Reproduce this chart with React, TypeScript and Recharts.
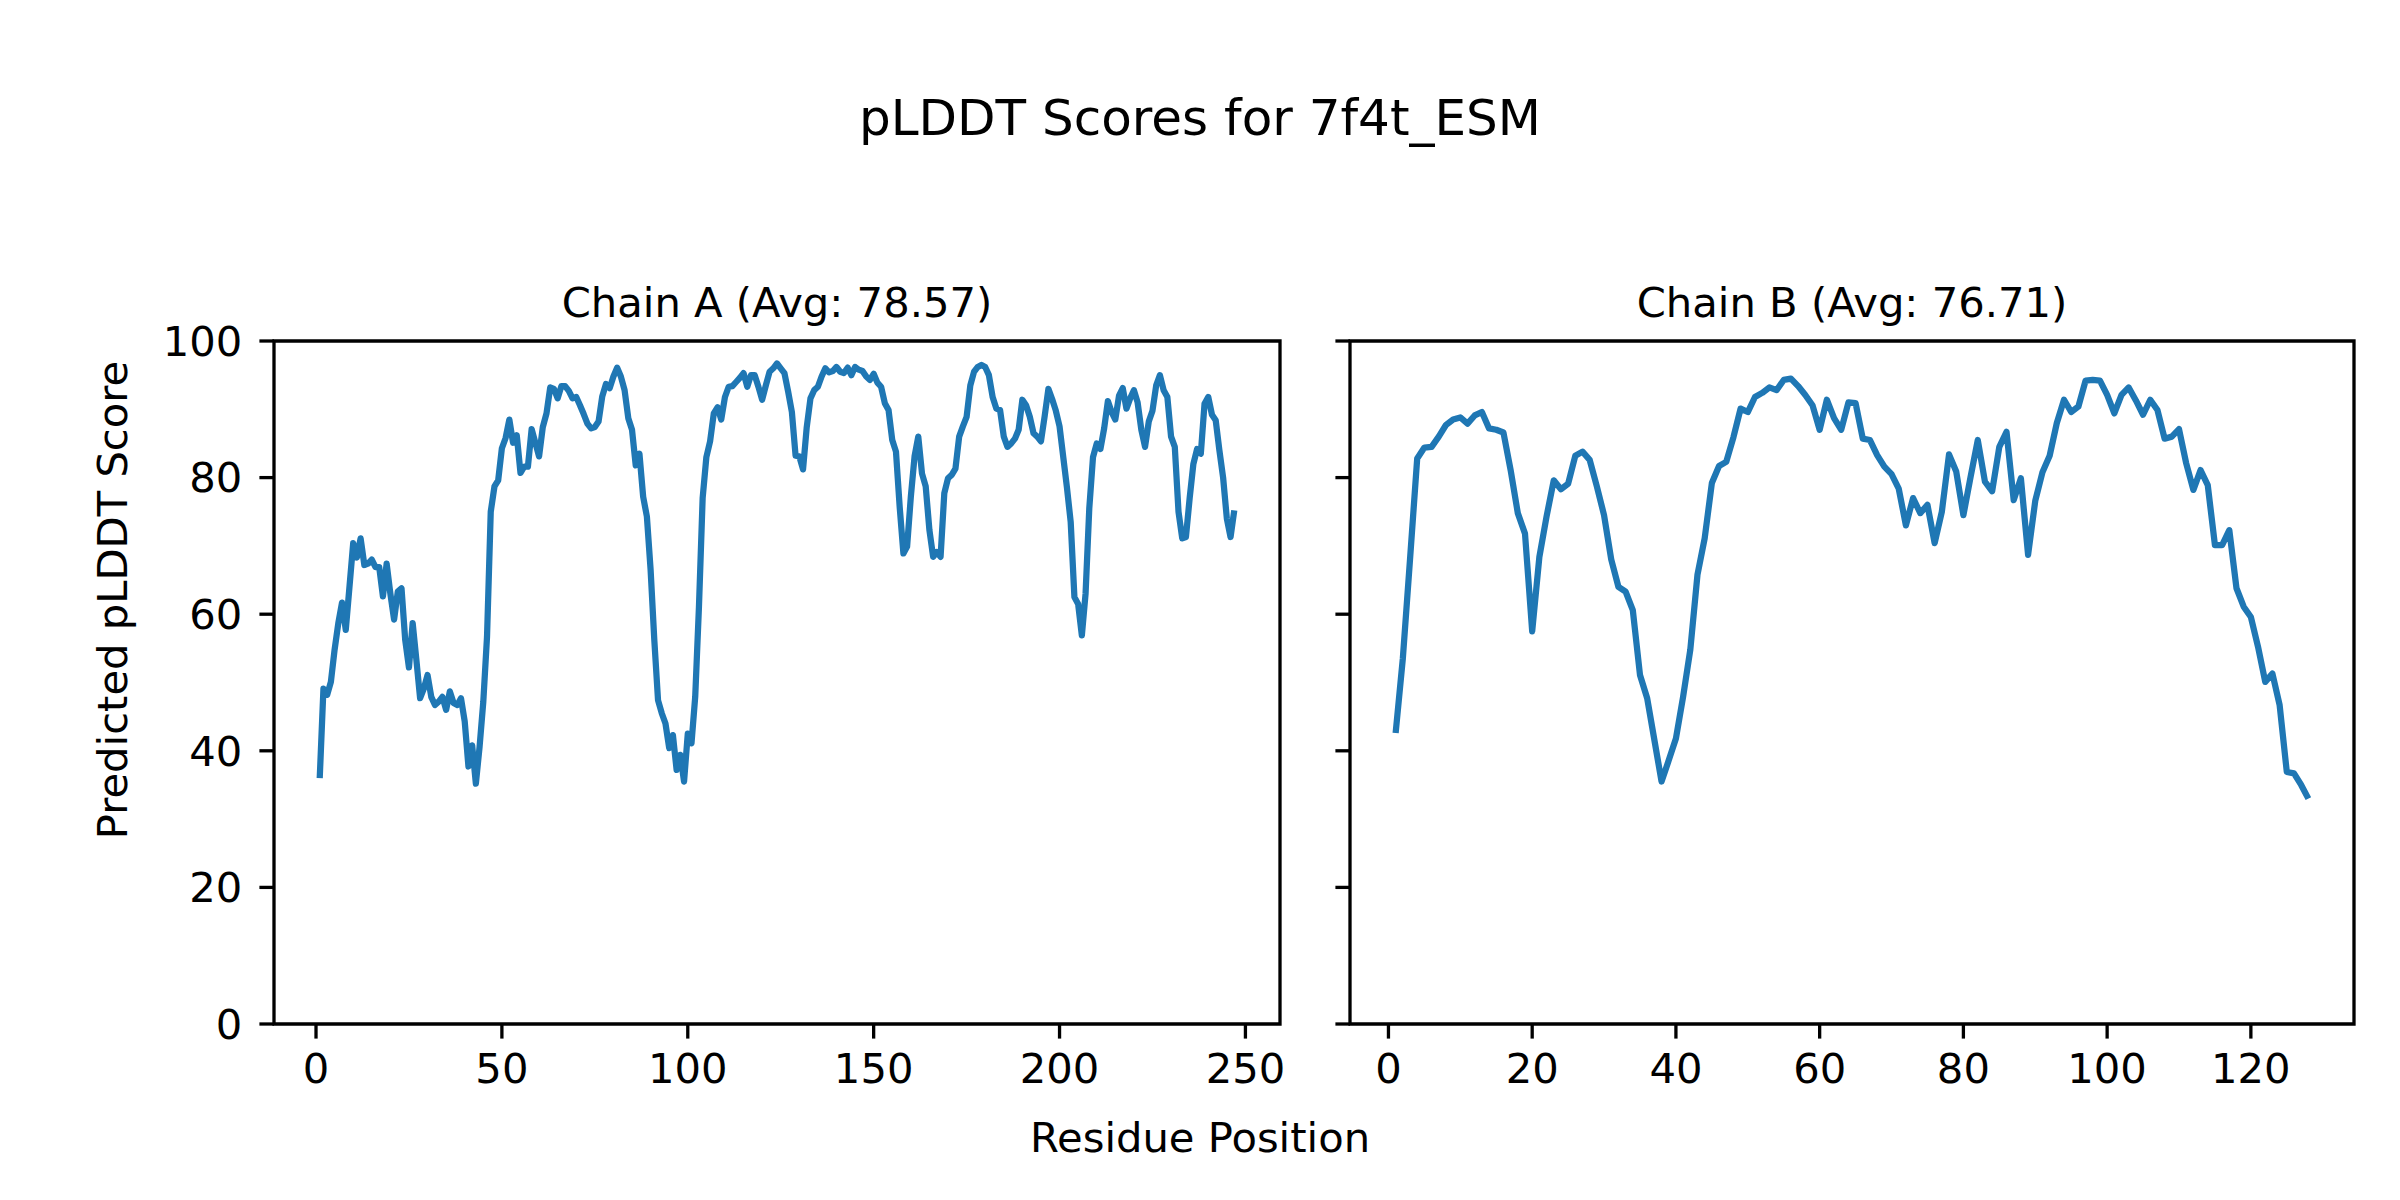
import React from 'react';
import { LineChart, Line, XAxis, YAxis, ReferenceArea } from 'recharts';

// per-residue pLDDT (residue 1..n)
const chainAScores = [
  36.0, 49.1, 48.2, 50.1, 54.8, 58.7, 61.7, 57.7, 64.0, 70.4,
  68.3, 71.1, 67.2, 67.4, 68.0, 66.9, 66.9, 62.6, 67.4, 63.0,
  59.2, 63.3, 63.8, 56.2, 52.2, 58.7, 53.3, 47.7, 49.1, 51.1,
  47.9, 46.7, 47.2, 47.9, 46.0, 48.7, 47.0, 46.7, 47.7, 44.3,
  37.7, 40.8, 35.2, 40.6, 47.2, 56.7, 75.0, 78.7, 79.6, 84.3,
  85.8, 88.5, 85.1, 86.2, 80.7, 81.6, 81.6, 87.1, 85.1, 83.1,
  87.4, 89.4, 93.2, 93.0, 91.6, 93.4, 93.4, 92.7, 91.6, 91.8,
  90.6, 89.3, 87.9, 87.2, 87.4, 88.2, 91.9, 93.7, 93.1, 94.8,
  96.1, 94.8, 92.8, 88.7, 87.0, 81.8, 83.5, 77.2, 74.3, 66.5,
  56.2, 47.4, 45.5, 44.0, 40.4, 42.3, 37.2, 39.4, 35.5, 42.5,
  41.1, 47.9, 61.0, 77.0, 83.0, 85.3, 89.4, 90.3, 88.5, 91.8,
  93.3, 93.4, 94.0, 94.6, 95.3, 93.3, 95.0, 95.0, 93.3, 91.4,
  93.5, 95.5, 96.0, 96.7, 96.0, 95.3, 92.6, 89.6, 83.2, 83.1,
  81.2, 87.4, 91.6, 92.8, 93.3, 94.8, 96.0, 95.4, 95.6, 96.2,
  95.5, 95.3, 96.1, 95.0, 96.2, 95.8, 95.6, 94.8, 94.3, 95.2,
  93.9, 93.3, 90.9, 89.9, 85.5, 83.8, 75.7, 68.9, 69.9, 77.2,
  83.1, 86.0, 80.6, 78.7, 72.3, 68.4, 69.1, 68.4, 77.7, 79.9,
  80.4, 81.3, 86.0, 87.5, 88.9, 93.5, 95.5, 96.2, 96.5, 96.2,
  95.0, 91.8, 90.1, 89.9, 86.0, 84.5, 85.0, 85.7, 87.0, 91.4,
  90.6, 88.9, 86.5, 86.0, 85.3, 89.0, 93.0, 91.5, 89.8, 87.5,
  83.0, 78.5, 73.5, 62.5, 61.5, 56.9, 63.0, 75.5, 83.0, 85.0,
  84.2, 87.2, 91.2, 89.6, 88.5, 92.0, 93.1, 90.1, 91.6, 92.8,
  91.0, 87.0, 84.5, 88.2, 89.8, 93.5, 95.0, 92.8, 91.8, 86.0,
  84.5, 75.0, 71.1, 71.3, 77.0, 82.0, 84.2, 83.5, 90.8, 91.8,
  89.2, 88.4, 84.0, 80.0, 74.0, 71.3, 75.2,
];

const chainBScores = [
  42.6, 53.5, 68.0, 82.8, 84.4, 84.5, 86.0, 87.7, 88.5, 88.8,
  87.9, 89.1, 89.6, 87.2, 87.0, 86.6, 81.1, 74.8, 71.8, 57.5,
  68.4, 74.3, 79.6, 78.3, 79.1, 83.2, 83.8, 82.6, 78.7, 74.5,
  68.0, 64.0, 63.3, 60.6, 51.1, 47.7, 41.6, 35.5, 38.6, 41.8,
  47.9, 54.8, 65.8, 71.1, 79.2, 81.7, 82.3, 85.9, 90.1, 89.6,
  91.8, 92.4, 93.2, 92.8, 94.3, 94.5, 93.4, 92.1, 90.6, 87.0,
  91.4, 88.7, 87.0, 91.0, 90.9, 85.7, 85.5, 83.3, 81.6, 80.5,
  78.4, 73.0, 77.0, 74.8, 76.0, 70.4, 75.0, 83.4, 80.9, 74.5,
  80.1, 85.5, 79.4, 78.0, 84.5, 86.7, 76.7, 79.9, 68.7, 76.6,
  80.8, 83.2, 88.0, 91.4, 89.6, 90.4, 94.2, 94.3, 94.2, 92.1,
  89.4, 92.1, 93.2, 91.3, 89.2, 91.4, 89.9, 85.7, 86.0, 87.1,
  82.1, 78.2, 81.1, 78.9, 70.1, 70.1, 72.3, 63.8, 61.1, 59.6,
  55.2, 50.1, 51.3, 46.7, 36.9, 36.7, 35.0, 33.0,
];

const chainATicks = [0, 50, 100, 150, 200, 250];
const chainBTicks = [0, 20, 40, 60, 80, 100, 120];
const scoreTicks = [0, 20, 40, 60, 80, 100];

const chainAAvg = '78.57';
const chainBAvg = '76.71';

const FONT = '"DejaVu Sans", sans-serif';
const BLUE = '#1f77b4';
const TICK_FONT = 41.7;

const toRows = (scores: number[]) => scores.map((score, i) => ({ pos: i + 1, score }));

// matplotlib pads the x range by 5% each side
const paddedDomain = (n: number): [number, number] => {
  const pad = (n - 1) * 0.05;
  return [1 - pad, n + pad];
};

interface PanelProps {
  scores: number[];
  ticks: number[];
  left: number;
  width: number;
  yAxisWidth: number;
  marginRight: number;
  showYLabels: boolean;
}

const ChainPanel: React.FC<PanelProps> = ({ scores, ticks, left, width, yAxisWidth, marginRight, showYLabels }) => {
  const domain = paddedDomain(scores.length);
  const tickText = { fill: '#000', fontSize: TICK_FONT, fontFamily: FONT };
  return (
    <div style={{ position: 'absolute', left, top: 0 }}>
      <LineChart
        width={width}
        height={1200}
        data={toRows(scores)}
        margin={{ top: 341, right: marginRight, bottom: 76, left: 0 }}
      >
        <XAxis
          dataKey="pos"
          type="number"
          domain={domain}
          ticks={ticks}
          interval={0}
          allowDataOverflow
          height={100}
          stroke="#000"
          axisLine={false}
          tickSize={14.6}
          tickMargin={15}
          tickLine={{ stroke: '#000', strokeWidth: 3.3 }}
          tick={tickText}
        />
        {/* shared y: right panel keeps the tick marks but drops the labels */}
        <YAxis
          type="number"
          domain={[0, 100]}
          ticks={scoreTicks}
          interval={0}
          width={yAxisWidth}
          stroke="#000"
          axisLine={false}
          tickSize={14.6}
          tickMargin={17}
          tickLine={{ stroke: '#000', strokeWidth: 3.3 }}
          tick={tickText}
          tickFormatter={showYLabels ? undefined : () => ''}
        />
        <Line
          type="linear"
          dataKey="score"
          stroke={BLUE}
          strokeWidth={6.25}
          strokeLinejoin="round"
          dot={false}
          activeDot={false}
          isAnimationActive={false}
        />
        <ReferenceArea
          x1={domain[0]}
          x2={domain[1]}
          y1={0}
          y2={100}
          fill="none"
          fillOpacity={0}
          stroke="#000"
          strokeWidth={3.3}
          strokeOpacity={1}
        />
      </LineChart>
    </div>
  );
};

export default function App() {
  return (
    <div style={{ position: 'relative', width: 2400, height: 1200, background: '#fff' }}>
      <style>{'body{margin:0}'}</style>
      <ChainPanel
        scores={chainAScores}
        ticks={chainATicks}
        left={0}
        width={1300}
        yAxisWidth={274}
        marginRight={20}
        showYLabels
      />
      <ChainPanel
        scores={chainBScores}
        ticks={chainBTicks}
        left={1300}
        width={1100}
        yAxisWidth={50}
        marginRight={46}
        showYLabels={false}
      />
      <svg
        width={2400}
        height={1200}
        style={{ position: 'absolute', left: 0, top: 0, pointerEvents: 'none' }}
        fontFamily={FONT}
        fill="#000"
      >
        <text x={1200} y={135} textAnchor="middle" fontSize={50}>pLDDT Scores for 7f4t_ESM</text>
        <text x={777} y={317} textAnchor="middle" fontSize={TICK_FONT}>{`Chain A (Avg: ${chainAAvg})`}</text>
        <text x={1852} y={317} textAnchor="middle" fontSize={TICK_FONT}>{`Chain B (Avg: ${chainBAvg})`}</text>
        <text x={1200} y={1152} textAnchor="middle" fontSize={TICK_FONT}>Residue Position</text>
        <text transform="translate(127,600) rotate(-90)" textAnchor="middle" fontSize={TICK_FONT}>
          Predicted pLDDT Score
        </text>
      </svg>
    </div>
  );
}
